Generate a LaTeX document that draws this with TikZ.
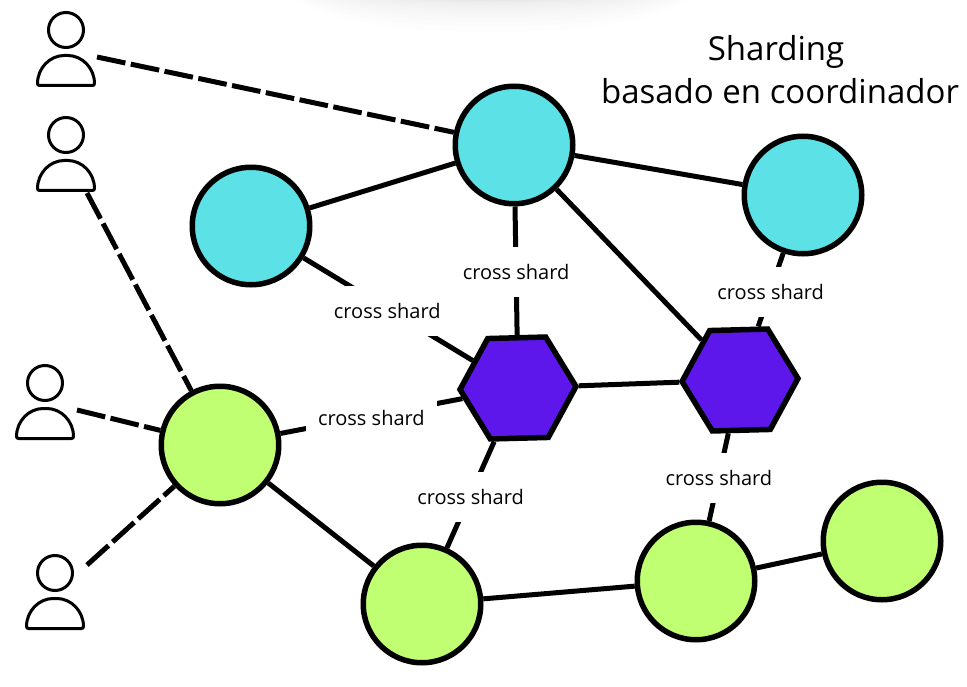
\documentclass[tikz,border=0pt]{standalone}
\usepackage{fontspec}
\setmainfont{Open Sans}
\usepackage{xcolor}
\usepackage{tikz}
\usetikzlibrary{shapes.geometric}
\definecolor{colc}{HTML}{5CE1E6}
\definecolor{colg}{HTML}{C1FF72}
\definecolor{colh}{HTML}{5E17EB}
\tikzstyle{every shard node}=[circle,draw,line width=5.5pt,inner sep=0pt,minimum size=117.5pt]
\tikzstyle{blue shard}=[every shard node,fill=colc]
\tikzstyle{green shard}=[every shard node,fill=colg]
\tikzstyle{coord shard}=[regular polygon,regular polygon sides=6,shape border rotate=1.5,draw,line width=5.5pt,inner sep=0pt,minimum size=116pt,fill=colh]
\tikzstyle{link}=[line width=5pt]
\tikzstyle{client link}=[line width=5pt,dash pattern=on 29pt off 5.5pt]
\tikzstyle{cross}=[fill=white,inner sep=0pt,yshift=-2pt,minimum width=131pt,minimum height=50pt,font=\fontsize{20}{24}\selectfont]
\tikzset{pics/user/.style={code={
\draw[line width=3pt] (0,0) circle (17.5pt);
\draw[line width=3pt,line join=round,rounded corners=2pt] (-28.5,55.5) .. controls (-28.5,38) and (-16,25.5) .. (0,25.5) .. controls (16,25.5) and (28.5,38) .. (28.5,55.5) -- cycle;
}}}
\begin{document}
\begin{tikzpicture}[x=1pt,y=-1pt]
\useasboundingbox (0,0) rectangle (967,687);
% shadow at the top edge
\begin{scope}
\clip (0,0) rectangle (967,687);
\foreach \r in {0,1,...,11}
  \fill[black,opacity=0.008] (492,-14) ellipse [x radius={150+5*\r},y radius={15+0.26*\r*\r}];
\end{scope}
\node[align=center,font=\fontsize{33}{43}\selectfont] (title) at (780,70) {Sharding\hspace*{8pt}\\basado en coordinador};
\pic at (66,30) {user};
\pic at (66,135) {user};
\pic at (45,383) {user};
\pic at (55,573) {user};
\coordinate (u1) at (97,57);
\coordinate (u2) at (87,193);
\coordinate (u3) at (77,410);
\coordinate (u4) at (87,565);
\node[blue shard] (c1) at (514,145) {};
\node[blue shard] (c2) at (251,226) {};
\node[blue shard] (c3) at (803,195) {};
\node[green shard] (g1) at (220,445) {};
\node[green shard] (g2) at (422,604) {};
\node[green shard] (g3) at (696,581) {};
\node[green shard] (g4) at (882,541) {};
\node[coord shard] (h1) at (518,388) {};
\node[coord shard] (h2) at (740,380) {};
\draw[client link] (u1) -- (c1);
\draw[client link] (u2) -- (g1);
\draw[client link] (u3) -- (g1);
\draw[client link] (u4) -- (g1);
\draw[link] (c2) -- (c1);
\draw[link] (c1) -- (c3);
\draw[link] (c1) -- (h2);
\draw[link] (h1) -- (h2);
\draw[link] (g1) -- (g2);
\draw[link] (g2) -- (g3);
\draw[link] (g3) -- (g4);
\draw[link] (c1) -- node[cross,pos=0.495] (x1) {cross shard} (h1);
\draw[link] (c2) -- node[cross,pos=0.495] (x2) {cross shard} (h1);
\draw[link] (g1) -- node[cross] (x3) {cross shard} (h1);
\draw[link] (h1) -- node[cross] (x4) {cross shard} (g2);
\draw[link] (c3) -- node[cross] (x5) {cross shard} (h2);
\draw[link] (h2) -- node[cross,pos=0.49] (x6) {cross shard} (g3);
\end{tikzpicture}
\end{document}
